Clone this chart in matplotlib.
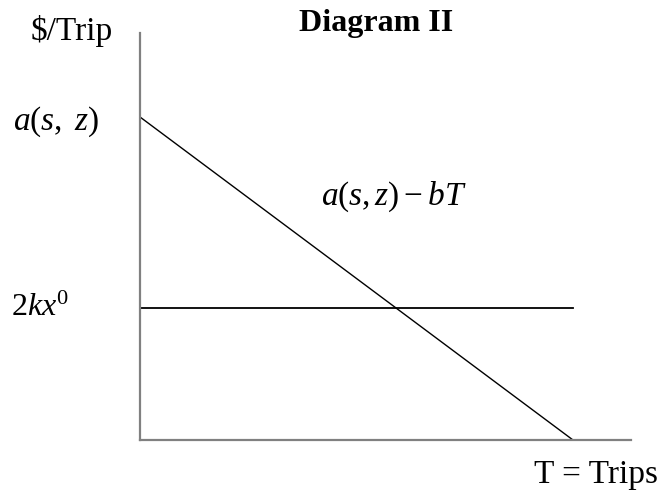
import matplotlib
matplotlib.use("Agg")
import matplotlib.pyplot as plt
import numpy as np

plt.rcParams['font.family'] = ['Liberation Serif', 'DejaVu Serif']
plt.rcParams['mathtext.fontset'] = 'custom'
plt.rcParams['mathtext.rm'] = 'Liberation Serif'
plt.rcParams['mathtext.it'] = 'Liberation Serif:italic'
plt.rcParams['mathtext.bf'] = 'Liberation Serif:bold'

# Data (normalized units)
intercept_a = 1.0          # a(s, z)
slope_b = 1.0              # b
T_max = 1.0                # T where demand hits zero
cost_level = 0.409         # 2kx^0
x_axis_max = 1.134
y_axis_max = 1.26

W, H = 662, 490
fig = plt.figure(figsize=(W / 100, H / 100), dpi=100)
ax = fig.add_axes([140 / W, 1 - 440 / H, (631 - 140) / W, (440 - 33) / H])
ax.set_xlim(0, x_axis_max)
ax.set_ylim(0, y_axis_max)
for s in ['top', 'right']:
    ax.spines[s].set_visible(False)
for s in ['left', 'bottom']:
    ax.spines[s].set_color('#808080')
    ax.spines[s].set_linewidth(1.6)
ax.set_xticks([])
ax.set_yticks([])

T = np.array([0.0, T_max])
ax.plot(T, intercept_a - slope_b * T, color='black', lw=1.0, clip_on=False)
ax.plot([0, T_max], [cost_level, cost_level], color='black', lw=1.3, clip_on=False)

fs = 24
fig.text(72 / W, 1 - 40 / H, '$/Trip', ha='center', va='baseline', fontsize=fs)
fig.text(376 / W, 1 - 31 / H, 'Diagram II', ha='center', va='baseline', fontsize=23, fontweight='bold')
fig.text(56 / W, 1 - 122 / H, r'$a(s,\ z)$', ha='center', va='center', fontsize=fs)
fig.text(40 / W, 1 - 308 / H, r'$2kx^{0}$', ha='center', va='center', fontsize=23)
fig.text(394 / W, 1 - 197 / H, r'$a(s,z)-bT$', ha='center', va='center', fontsize=fs)
fig.text(596 / W, 1 - 483 / H, 'T = Trips', ha='center', va='baseline', fontsize=fs)

fig.savefig('out.png', dpi=100)
